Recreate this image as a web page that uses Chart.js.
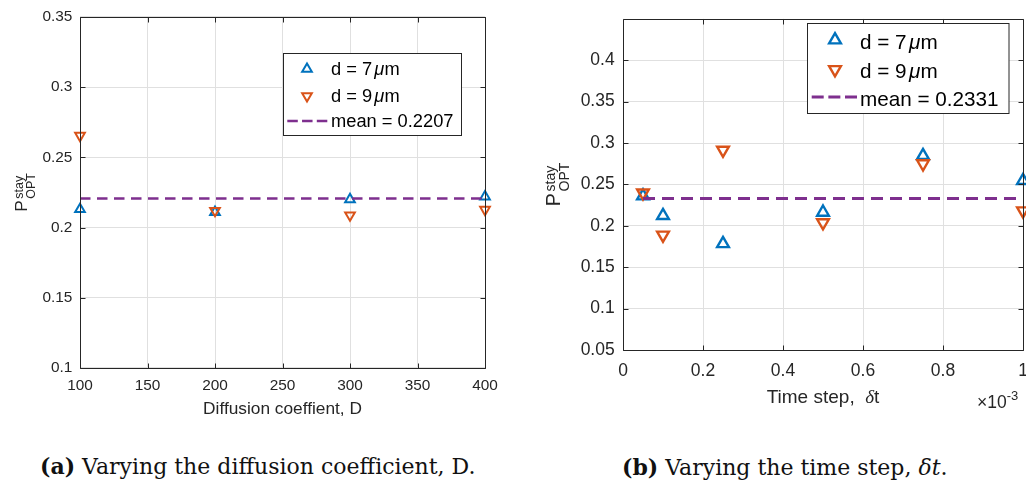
<!DOCTYPE html>
<html>
<head>
<meta charset="utf-8">
<script src="https://cdn.jsdelivr.net/npm/chart.js@4.4.1/dist/chart.umd.min.js"></script>
<style>
  html, body { margin: 0; padding: 0; background: #fff; overflow: hidden; width: 1026px; height: 483px; }
  #wrap { position: relative; width: 1026px; height: 483px; overflow: hidden; }
  canvas { position: absolute; top: 0; }
  #cA { left: 0; }
  #cB { left: 520px; }
  .cap { position: absolute; font-family: 'DejaVu Serif', 'Liberation Serif', serif; font-size: 22px; line-height: 22px; color: #111; white-space: nowrap; }
  #capA { left: 40px; top: 455px; }
  #capB { left: 622px; top: 456px; }
</style>
</head>
<body>
<div id="wrap">
  <canvas id="cA" width="520" height="430"></canvas>
  <canvas id="cB" width="540" height="430"></canvas>
  <div class="cap" id="capA"><b>(a)</b> Varying the diffusion coefficient, D.</div>
  <div class="cap" id="capB"><b>(b)</b> Varying the time step, <i>δt</i>.</div>
</div>
<script>
// ---- Panel (a): stay probability against the diffusion coefficient ----
const diffCoeff = [100, 200, 300, 400];
const stayA7 = [0.213, 0.211, 0.220, 0.222];
const stayA9 = [0.2655, 0.212, 0.2088, 0.2128];
const meanA = 0.2207;
const xTicksA = [100, 150, 200, 250, 300, 350, 400];
const yTicksA = [0.1, 0.15, 0.2, 0.25, 0.3, 0.35];

// ---- Panel (b): stay probability against the time step (units of 1e-3) ----
const timeStep = [0.05, 0.1, 0.25, 0.5, 0.75, 1];
const stayB7 = [0.236, 0.2123, 0.1783, 0.2163, 0.2847, 0.2546];
const stayB9 = [0.2398, 0.1889, 0.2914, 0.2038, 0.275, 0.2182];
const meanB = 0.2331;
const xTicksB = [0, 0.2, 0.4, 0.6, 0.8, 1];
const yTicksB = [0.05, 0.1, 0.15, 0.2, 0.25, 0.3, 0.35, 0.4];

const seriesNames = ['d = 7μm', 'd = 9μm'];
const yLabelParts = { base: 'P', sup: 'stay', sub: 'OPT' };
const xTitleA = 'Diffusion coeffient, D';
const xTitleB = ['Time step,  ', 'δ', 't'];
const exponentB = ['×10', '-3'];

const FONT = "'Liberation Sans', Arial, Helvetica, sans-serif";
const INK = '#262626';
const BLUE = '#0072BD', ORANGE = '#D95319', PURPLE = '#7E2F8E';

const fmt = v => String(+Number(v).toFixed(3));

// draws a run of differently styled text pieces starting at x
function drawRun(ctx, pieces, x, y, align) {
  let total = 0;
  const widths = pieces.map(p => { ctx.font = p.font; const w = ctx.measureText(p.t).width + (p.pre || 0); total += w; return w; });
  let cx = align === 'center' ? x - total / 2 : x;
  ctx.textAlign = 'left';
  ctx.textBaseline = 'alphabetic';
  pieces.forEach((p, i) => {
    ctx.font = p.font;
    ctx.fillText(p.t, cx + (p.pre || 0), y - (p.rise || 0));
    cx += widths[i];
  });
}

function labelPieces(text, size) {
  const norm = `${size}px ${FONT}`, ital = `italic ${size}px ${FONT}`;
  const i = text.indexOf('μ');
  if (i < 0) return [{ t: text, font: norm }];
  return [
    { t: text.slice(0, i), font: norm },
    { t: 'μ', font: ital, pre: size * 0.12 },
    { t: text.slice(i + 1), font: norm }
  ];
}

// axes box with inward ticks on all four sides
function drawBox(chart, o) {
  const { ctx, chartArea: a } = chart;
  const xs = chart.scales.x, ys = chart.scales.y;
  const L = Math.round(a.left) + 0.5, R = Math.round(a.right) + 0.5;
  const T = Math.round(a.top) + 0.5, B = Math.round(a.bottom) + 0.5;
  ctx.save();
  ctx.strokeStyle = INK;
  ctx.lineWidth = 1;
  ctx.setLineDash([]);
  ctx.beginPath();
  xs.ticks.forEach(t => {
    const p = Math.round(xs.getPixelForValue(t.value)) + 0.5;
    ctx.moveTo(p, B); ctx.lineTo(p, B - o.tick);
    ctx.moveTo(p, T); ctx.lineTo(p, T + o.tick);
  });
  ys.ticks.forEach(t => {
    const p = Math.round(ys.getPixelForValue(t.value)) + 0.5;
    ctx.moveTo(L, p); ctx.lineTo(L + o.tick, p);
    ctx.moveTo(R, p); ctx.lineTo(R - o.tick, p);
  });
  ctx.moveTo(L, T); ctx.lineTo(R, T); ctx.lineTo(R, B); ctx.lineTo(L, B); ctx.closePath();
  ctx.stroke();
  ctx.restore();
}

// box, axis labels and an in-plot legend
const matlabAxes = {
  id: 'matlabAxes',
  afterDraw(chart, _args, o) {
    const { ctx, chartArea: a } = chart;
    drawBox(chart, o);
    ctx.save();
    ctx.fillStyle = INK;

    // rotated y label with super/subscript
    const yl = o.yLabel;
    ctx.save();
    ctx.translate(yl.x, (a.top + a.bottom) / 2);
    ctx.rotate(-Math.PI / 2);
    ctx.textAlign = 'left'; ctx.textBaseline = 'alphabetic';
    const fBig = `${yl.size}px ${FONT}`, fSmall = `${yl.small}px ${FONT}`;
    ctx.font = fBig; const wP = ctx.measureText(yLabelParts.base).width;
    ctx.font = fSmall;
    const wS = Math.max(ctx.measureText(yLabelParts.sup).width, ctx.measureText(yLabelParts.sub).width);
    let u = -(wP + yl.gap + wS) / 2;
    ctx.font = fBig; ctx.fillText(yLabelParts.base, u, 0);
    u += wP + yl.gap;
    ctx.font = fSmall;
    ctx.fillText(yLabelParts.sup, u, -yl.sup);
    ctx.fillText(yLabelParts.sub, u, yl.sub);
    ctx.restore();

    // x title
    drawRun(ctx, o.xTitle.pieces, (a.left + a.right) / 2, o.xTitle.y, 'center');

    // exponent label
    if (o.exponent) drawRun(ctx, o.exponent.pieces, o.exponent.x, o.exponent.y, 'left');

    // legend
    const lg = o.legend;
    const [bx, by, bw, bh] = lg.box;
    ctx.fillStyle = '#fff';
    ctx.fillRect(bx, by, bw, bh);
    ctx.strokeStyle = INK; ctx.lineWidth = 1; ctx.setLineDash([]);
    ctx.strokeRect(bx, by, bw, bh);
    chart.data.datasets.forEach((ds, i) => {
      const row = lg.rows[i];
      if (ds.showLine) {
        const len = lg.dash[1] - lg.dash[0];
        const d = ds.borderDash[0];
        ctx.save();
        ctx.strokeStyle = ds.borderColor; ctx.lineWidth = ds.borderWidth;
        ctx.setLineDash([d, (len - 3 * d) / 2]);
        ctx.beginPath(); ctx.moveTo(lg.dash[0], row.my); ctx.lineTo(lg.dash[1], row.my); ctx.stroke();
        ctx.restore();
      } else {
        ctx.save();
        ctx.strokeStyle = ds.pointBorderColor; ctx.fillStyle = 'rgba(0,0,0,0)';
        ctx.lineWidth = ds.pointBorderWidth;
        Chart.helpers.drawPoint(ctx, { pointStyle: ds.pointStyle, rotation: ds.pointRotation, radius: ds.pointRadius, borderWidth: ds.pointBorderWidth }, lg.markerX, row.my);
        ctx.restore();
      }
      ctx.fillStyle = '#000';
      drawRun(ctx, labelPieces(ds.label, lg.size), lg.textX, row.baseline, 'left');
    });
    ctx.restore();
  }
};

function buildPanel(id, p) {
  const last = p.x.length - 1;
  return new Chart(document.getElementById(id), {
    type: 'scatter',
    data: {
      datasets: [
        { label: seriesNames[0], data: p.x.map((x, i) => ({ x, y: p.y7[i] })),
          pointStyle: 'triangle', pointRotation: 0, pointRadius: p.r, pointBorderWidth: p.bw,
          pointBorderColor: BLUE, pointBackgroundColor: 'rgba(0,0,0,0)', borderColor: BLUE,
          clip: false, order: 2 },
        { label: seriesNames[1], data: p.x.map((x, i) => ({ x, y: p.y9[i] })),
          pointStyle: 'triangle', pointRotation: 180, pointRadius: p.r, pointBorderWidth: p.bw,
          pointBorderColor: ORANGE, pointBackgroundColor: 'rgba(0,0,0,0)', borderColor: ORANGE,
          clip: false, order: 1 },
        { label: 'mean = ' + p.mean.toFixed(4),
          data: [{ x: p.x[0], y: p.mean }, { x: p.x[last], y: p.mean }],
          showLine: true, borderColor: PURPLE, borderWidth: p.lw, borderDash: p.dash,
          borderCapStyle: 'butt', pointRadius: 0, fill: false, clip: false, order: 0 }
      ]
    },
    options: {
      responsive: false,
      animation: false,
      devicePixelRatio: 1,
      layout: { padding: p.pad },
      scales: {
        x: {
          type: 'linear', min: p.xMin, max: p.xMax,
          afterBuildTicks: s => { s.ticks = p.xTicks.map(v => ({ value: v })); },
          afterFit: s => { s.height = p.xAxisH; },
          grid: { color: '#e0e0e0', lineWidth: 1, drawTicks: false },
          border: { display: false },
          ticks: { font: { family: FONT, size: p.tickSize }, color: INK, padding: p.xPad,
                   maxRotation: 0, autoSkip: false, callback: v => fmt(v) }
        },
        y: {
          type: 'linear', min: p.yMin, max: p.yMax,
          afterBuildTicks: s => { s.ticks = p.yTicks.map(v => ({ value: v })); },
          afterFit: s => { s.width = p.yAxisW; },
          grid: { color: '#e0e0e0', lineWidth: 1, drawTicks: false },
          border: { display: false },
          ticks: { font: { family: FONT, size: p.tickSize }, color: INK, padding: p.yPad,
                   autoSkip: false, callback: v => fmt(v) }
        }
      },
      plugins: {
        legend: { display: false },
        tooltip: { enabled: false },
        matlabAxes: p.deco
      }
    },
    plugins: [matlabAxes]
  });
}

buildPanel('cA', {
  x: diffCoeff, y7: stayA7, y9: stayA9, mean: meanA,
  xMin: 100, xMax: 400, yMin: 0.1, yMax: 0.35, xTicks: xTicksA, yTicks: yTicksA,
  r: 5.6, bw: 2, lw: 2.6, dash: [10.5, 6.5],
  pad: { left: 0, right: 35, top: 16, bottom: 0 }, xAxisH: 62, yAxisW: 80,
  tickSize: 15.4, xPad: 8.3, yPad: 7.6,
  deco: {
    tick: 5,
    yLabel: { x: 27, size: 17.3, small: 12.5, gap: 1.5, sup: 4.5, sub: 7.5 },
    xTitle: { y: 414.3, pieces: [{ t: xTitleA, font: `17.3px ${FONT}` }] },
    legend: { box: [283.5, 53.5, 178, 82], markerX: 307, textX: 331, size: 18.3, dash: [287.3, 327.3],
              rows: [{ baseline: 75, my: 69 }, { baseline: 101.5, my: 96 }, { baseline: 127, my: 121 }] }
  }
});

buildPanel('cB', {
  x: timeStep, y7: stayB7, y9: stayB9, mean: meanB,
  xMin: 0, xMax: 1, yMin: 0.05, yMax: 0.45, xTicks: xTicksB, yTicks: yTicksB,
  r: 6.8, bw: 2.4, lw: 3, dash: [12, 7],
  pad: { left: 0, right: 37, top: 8, bottom: 0 }, xAxisH: 80, yAxisW: 103,
  tickSize: 17.5, xPad: 10.3, yPad: 8.3,
  deco: {
    tick: 5,
    yLabel: { x: 40, size: 19.5, small: 14, gap: 1.7, sup: 5, sub: 8.5 },
    xTitle: { y: 402.5, pieces: [
      { t: xTitleB[0], font: `19px ${FONT}` },
      { t: xTitleB[1], font: `italic 19px 'Liberation Serif', serif` },
      { t: xTitleB[2], font: `19px ${FONT}` }
    ] },
    exponent: { x: 457, y: 408, pieces: [
      { t: exponentB[0], font: `17.5px ${FONT}` },
      { t: exponentB[1], font: `13px ${FONT}`, rise: 8 }
    ] },
    legend: { box: [287.5, 23.5, 201.5, 90], markerX: 315, textX: 340, size: 20.7, dash: [291.7, 337],
              rows: [{ baseline: 49, my: 40 }, { baseline: 77.5, my: 69.5 }, { baseline: 106, my: 97 }] }
  }
});
</script>
</body>
</html>
